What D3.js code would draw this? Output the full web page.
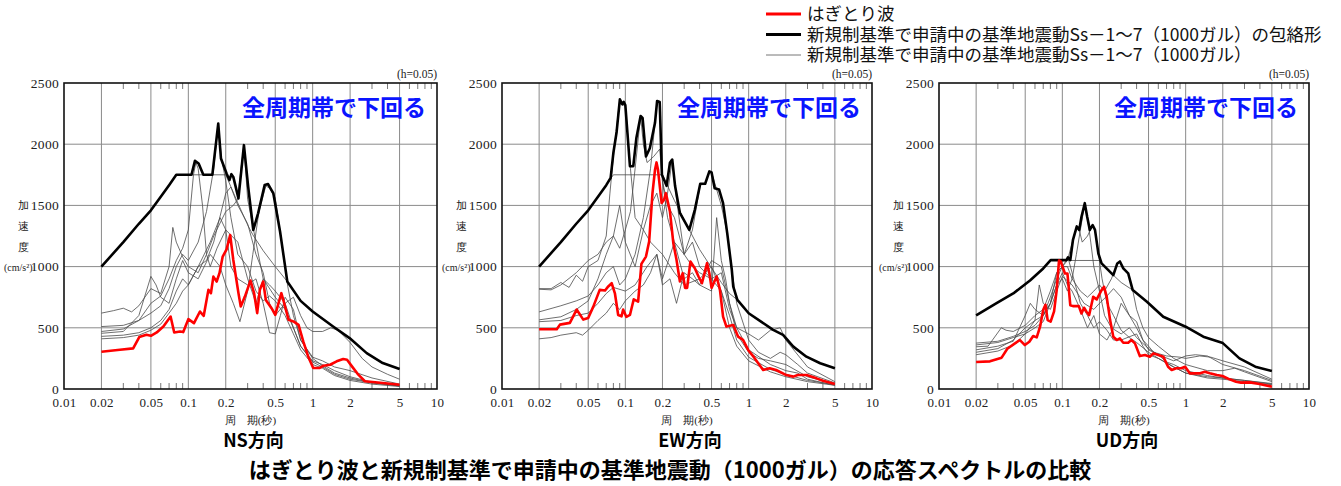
<!DOCTYPE html>
<html>
<head>
<meta charset="utf-8">
<script src="https://cdn.jsdelivr.net/npm/d3@7"></script>
<style>
  body { margin: 0; background: #fff; }
  svg text { font-family: "Liberation Serif", "DejaVu Serif", serif; fill: #222; }
  .jp { font-family: "Noto Sans CJK JP", "Noto Sans", sans-serif !important; }
</style>
</head>
<body>
<script>
// ---- tick values ----
const xTicks = [0.01, 0.02, 0.05, 0.1, 0.2, 0.5, 1, 2, 5, 10];
const xGrid = [0.02, 0.05, 0.1, 0.2, 0.5, 1, 2, 5];
const yTicks = [0, 500, 1000, 1500, 2000, 2500];

// ---- NS ----  [period (s), acceleration (cm/s2)]
const nsRed = [[0.02,304],[0.0282,321],[0.036,332],[0.0403,424],[0.046,443],[0.05,435],[0.0557,462],[0.063,511],[0.072,592],[0.077,462],[0.0857,470],[0.091,465],[0.1,571],[0.111,538],[0.124,633],[0.133,598],[0.145,810],[0.152,783],[0.159,918],[0.169,878],[0.178,946],[0.189,1082],[0.203,1141],[0.217,1258],[0.23,1054],[0.253,783],[0.264,674],[0.285,755],[0.316,886],[0.338,783],[0.358,620],[0.376,810],[0.4,878],[0.42,728],[0.467,660],[0.5,606],[0.56,783],[0.585,715],[0.64,565],[0.7,552],[0.77,524],[0.84,389],[0.92,266],[1.01,171],[1.13,171],[1.22,190],[1.38,198],[1.56,226],[1.76,245],[1.89,239],[2.07,185],[2.33,117],[2.63,63],[3.66,49],[5,35]];
const nsEnv = [[0.02,1000],[0.03,1200],[0.04,1350],[0.05,1460],[0.06,1570],[0.07,1665],[0.08,1750],[0.106,1750],[0.113,1864],[0.121,1842],[0.132,1750],[0.156,1750],[0.174,2168],[0.183,1883],[0.203,1761],[0.214,1707],[0.222,1755],[0.23,1733],[0.253,1557],[0.28,1992],[0.303,1652],[0.333,1299],[0.364,1435],[0.411,1666],[0.438,1674],[0.483,1598],[0.547,1285],[0.625,878],[0.8,720],[1,633],[1.46,511],[1.98,416],[2.72,293],[3.66,212],[5,163]];
const nsSs1 = [[0.02,1000],[0.03,1200],[0.04,1350],[0.05,1460],[0.06,1570],[0.07,1665],[0.08,1750],[0.2,1750],[0.25,1520],[0.3,1340],[0.33,1260],[0.4,1130],[0.5,1000],[0.625,878],[0.8,720],[1,633],[1.46,511],[1.98,416],[2.72,293],[3.66,212],[5,163]];
const nsSs2 = [[0.02,470],[0.03,490],[0.04,560],[0.05,700],[0.06,760],[0.07,900],[0.08,1050],[0.09,1150],[0.1,1300],[0.11,1750],[0.115,1850],[0.12,1800],[0.13,1500],[0.14,1100],[0.15,1000],[0.17,1150],[0.2,1300],[0.25,1200],[0.3,900],[0.35,700],[0.4,900],[0.5,750],[0.6,650],[0.7,500],[0.8,350],[1,220],[1.2,180],[1.5,120],[2,80],[3,50],[5,25]];
const nsSs3 = [[0.02,510],[0.03,520],[0.04,560],[0.05,620],[0.06,680],[0.07,820],[0.08,1000],[0.09,1100],[0.1,1050],[0.12,1200],[0.14,1450],[0.16,1800],[0.174,2165],[0.185,1880],[0.2,1700],[0.22,1400],[0.25,1100],[0.3,1000],[0.35,800],[0.4,720],[0.45,760],[0.5,720],[0.6,600],[0.7,450],[0.8,320],[1,200],[1.2,170],[1.5,110],[2,70],[3,40],[5,20]];
const nsSs4 = [[0.02,620],[0.025,640],[0.03,660],[0.035,630],[0.04,680],[0.05,820],[0.06,780],[0.07,1000],[0.075,1320],[0.08,1200],[0.09,1080],[0.1,1000],[0.12,950],[0.14,1100],[0.16,1250],[0.2,1450],[0.23,1500],[0.25,1550],[0.265,1800],[0.28,1990],[0.3,1550],[0.35,1200],[0.4,900],[0.45,850],[0.5,800],[0.6,700],[0.7,500],[0.8,350],[1,230],[1.2,200],[1.5,150],[2,100],[3,55],[5,30]];
const nsSs5 = [[0.02,455],[0.03,470],[0.04,600],[0.05,920],[0.055,850],[0.06,750],[0.07,700],[0.08,900],[0.09,1050],[0.1,950],[0.12,900],[0.15,1100],[0.18,1000],[0.2,850],[0.23,700],[0.26,550],[0.3,800],[0.33,1100],[0.37,1450],[0.42,1660],[0.45,1640],[0.5,1560],[0.55,1270],[0.6,1000],[0.63,840],[0.7,600],[0.8,400],[1,250],[1.2,190],[1.5,130],[2,90],[3,50],[5,25]];
const nsSs6 = [[0.02,410],[0.03,420],[0.04,440],[0.05,480],[0.06,530],[0.07,620],[0.08,700],[0.09,800],[0.1,850],[0.12,1000],[0.14,1050],[0.16,1200],[0.2,1600],[0.22,1650],[0.25,1500],[0.3,1350],[0.35,1100],[0.4,950],[0.45,700],[0.5,600],[0.6,700],[0.7,750],[0.8,600],[0.9,500],[1,470],[1.2,470],[1.4,500],[1.6,480],[2,380],[2.5,250],[3,180],[4,120],[5,80]];
const nsSs7 = [[0.02,430],[0.03,440],[0.04,460],[0.05,500],[0.06,560],[0.07,650],[0.08,800],[0.09,900],[0.1,850],[0.12,1000],[0.15,1200],[0.18,1400],[0.2,1300],[0.22,1000],[0.25,900],[0.3,850],[0.35,900],[0.4,700],[0.45,460],[0.5,450],[0.55,600],[0.6,750],[0.7,650],[0.8,400],[1,260],[1.2,230],[1.5,180],[2,150],[3,90],[5,40]];

// ---- EW ----
const ewRed = [[0.02,488],[0.0278,488],[0.0295,526],[0.0355,540],[0.0403,649],[0.0456,567],[0.05,580],[0.055,673],[0.062,810],[0.0685,805],[0.0727,838],[0.0775,864],[0.0823,782],[0.0875,605],[0.0932,594],[0.096,649],[0.102,589],[0.109,605],[0.117,733],[0.127,714],[0.135,1022],[0.147,1082],[0.156,1205],[0.166,1600],[0.174,1791],[0.179,1851],[0.184,1791],[0.197,1519],[0.206,1546],[0.213,1600],[0.23,1451],[0.245,1191],[0.26,1055],[0.277,878],[0.292,946],[0.305,826],[0.317,826],[0.337,1041],[0.366,987],[0.392,919],[0.418,864],[0.46,1028],[0.48,946],[0.5,826],[0.55,919],[0.585,810],[0.62,592],[0.66,510],[0.75,523],[0.82,428],[0.9,401],[0.99,319],[1.11,256],[1.31,155],[1.48,169],[1.67,155],[2.02,114],[2.3,101],[2.5,114],[2.94,114],[3.55,87],[4,68],[5,41]];
const ewEnv = [[0.02,1000],[0.03,1200],[0.04,1350],[0.05,1460],[0.06,1570],[0.07,1665],[0.076,1725],[0.08,1930],[0.085,2100],[0.0903,2366],[0.0944,2326],[0.097,2345],[0.1,2320],[0.109,1820],[0.116,1820],[0.123,2053],[0.133,2230],[0.138,2215],[0.147,1900],[0.158,1967],[0.174,2175],[0.181,2353],[0.19,2345],[0.198,1750],[0.216,1660],[0.23,1848],[0.24,1875],[0.253,1660],[0.277,1438],[0.33,1300],[0.366,1464],[0.405,1677],[0.444,1677],[0.48,1778],[0.5,1770],[0.53,1640],[0.575,1630],[0.62,1519],[0.67,1273],[0.73,973],[0.75,837],[0.81,728],[1,619],[1.58,483],[1.9,442],[2.3,346],[2.94,264],[3.8,210],[5,169]];
const ewSs1 = [[0.02,1000],[0.03,1200],[0.04,1350],[0.05,1460],[0.06,1570],[0.07,1665],[0.08,1750],[0.2,1750],[0.25,1540],[0.33,1300],[0.4,1140],[0.5,990],[0.6,870],[0.7,780],[0.81,728],[1,619],[1.58,483],[1.9,442],[2.3,346],[2.94,264],[3.8,210],[5,169]];
const ewSs2 = [[0.02,820],[0.025,820],[0.03,870],[0.035,830],[0.04,930],[0.045,880],[0.05,1000],[0.06,1050],[0.07,1250],[0.075,1600],[0.08,1900],[0.09,2360],[0.095,2320],[0.1,2320],[0.11,1800],[0.12,1400],[0.14,1300],[0.16,1200],[0.2,1100],[0.25,950],[0.3,850],[0.4,900],[0.5,1000],[0.6,800],[0.7,500],[0.8,350],[1,230],[1.5,140],[2,100],[3,60],[5,30]];
const ewSs3 = [[0.02,815],[0.025,810],[0.03,850],[0.04,950],[0.05,1050],[0.06,1100],[0.07,1200],[0.08,1250],[0.09,1150],[0.1,1300],[0.11,1450],[0.12,1800],[0.133,2230],[0.14,2000],[0.15,1850],[0.17,1900],[0.19,1960],[0.2,1700],[0.22,1400],[0.25,1200],[0.3,900],[0.35,950],[0.4,850],[0.5,1050],[0.6,1000],[0.7,700],[0.8,450],[1,300],[1.2,250],[1.5,230],[2,200],[3,100],[5,40]];
const ewSs4 = [[0.02,630],[0.03,680],[0.04,720],[0.05,760],[0.06,850],[0.07,950],[0.08,1000],[0.09,850],[0.1,900],[0.12,1100],[0.14,1400],[0.16,1800],[0.181,2350],[0.19,2340],[0.2,1700],[0.22,1500],[0.25,1400],[0.3,1100],[0.35,1200],[0.4,1000],[0.5,900],[0.6,800],[0.7,600],[0.8,400],[1,260],[1.5,160],[2,120],[3,70],[5,35]];
const ewSs5 = [[0.02,565],[0.03,590],[0.04,650],[0.05,720],[0.06,900],[0.07,1100],[0.08,1250],[0.09,1500],[0.1,1200],[0.12,1000],[0.14,1300],[0.16,1500],[0.18,1600],[0.2,1400],[0.22,1600],[0.24,1875],[0.26,1550],[0.3,1100],[0.35,1000],[0.4,950],[0.5,900],[0.6,950],[0.7,650],[0.8,500],[1,450],[1.2,400],[1.5,480],[1.8,500],[2,400],[3,180],[5,60]];
const ewSs6 = [[0.02,550],[0.03,560],[0.04,600],[0.05,620],[0.06,700],[0.07,780],[0.08,830],[0.1,800],[0.12,850],[0.15,1000],[0.18,1100],[0.2,900],[0.25,1200],[0.3,1100],[0.35,1300],[0.405,1670],[0.444,1670],[0.48,1778],[0.5,1770],[0.55,1630],[0.6,1500],[0.67,1273],[0.73,970],[0.8,700],[1,400],[1.2,300],[1.5,250],[1.8,300],[2,280],[2.5,200],[3,130],[5,50]];
const ewSs7 = [[0.02,410],[0.025,420],[0.03,440],[0.04,460],[0.045,440],[0.05,480],[0.06,560],[0.07,620],[0.08,700],[0.09,650],[0.1,720],[0.12,800],[0.14,850],[0.16,950],[0.18,1100],[0.2,850],[0.23,900],[0.26,700],[0.3,950],[0.35,900],[0.4,850],[0.5,800],[0.55,1400],[0.6,1050],[0.65,900],[0.7,700],[0.8,500],[1,320],[1.5,200],[2,150],[2.5,130],[3,80],[5,30]];

// ---- UD ----
const udRed = [[0.02,220],[0.0259,226],[0.0322,256],[0.0358,329],[0.0413,373],[0.0453,400],[0.0497,359],[0.054,386],[0.058,433],[0.062,422],[0.066,509],[0.07,647],[0.073,688],[0.076,563],[0.0804,550],[0.0857,634],[0.09,808],[0.094,1050],[0.097,1042],[0.105,944],[0.11,944],[0.116,685],[0.122,677],[0.136,677],[0.143,617],[0.15,664],[0.157,631],[0.165,604],[0.178,753],[0.19,732],[0.208,808],[0.218,835],[0.229,753],[0.244,563],[0.259,427],[0.276,400],[0.293,413],[0.312,378],[0.342,378],[0.363,400],[0.388,373],[0.425,269],[0.468,277],[0.512,264],[0.547,291],[0.6,277],[0.658,264],[0.72,182],[0.77,155],[0.84,169],[0.92,169],[0.99,182],[1.08,128],[1.19,128],[1.31,128],[1.43,141],[1.57,128],[1.79,114],[1.99,106],[2.27,79],[2.56,60],[2.81,52],[3.31,54],[3.97,41],[5,19]];
const udEnv = [[0.02,601],[0.0293,702],[0.04,781],[0.0547,887],[0.07,985],[0.0804,1053],[0.108,1053],[0.111,1075],[0.116,1053],[0.122,1219],[0.131,1328],[0.137,1300],[0.143,1407],[0.152,1518],[0.159,1407],[0.167,1300],[0.176,1339],[0.184,1300],[0.196,1107],[0.208,1026],[0.259,930],[0.279,1026],[0.293,1042],[0.312,985],[0.342,944],[0.372,808],[0.485,713],[0.658,590],[1,509],[1.39,427],[2,375],[2.73,250],[3.67,182],[5,147]];
const udSs1 = [[0.02,601],[0.0293,702],[0.04,781],[0.0547,887],[0.07,985],[0.08,1050],[0.2,1050],[0.259,930],[0.3,870],[0.372,808],[0.485,713],[0.658,590],[1,509],[1.39,427],[2,375],[2.73,250],[3.67,182],[5,147]];
const udSs2 = [[0.02,300],[0.03,330],[0.04,400],[0.05,500],[0.06,560],[0.07,600],[0.08,700],[0.09,850],[0.1,900],[0.11,800],[0.12,900],[0.13,1100],[0.14,1300],[0.152,1515],[0.16,1400],[0.17,1200],[0.18,1000],[0.2,800],[0.22,600],[0.25,500],[0.3,450],[0.35,500],[0.4,420],[0.5,330],[0.6,280],[0.7,220],[0.8,200],[1,150],[1.5,110],[2,90],[3,70],[5,40]];
const udSs3 = [[0.02,360],[0.03,380],[0.04,420],[0.05,450],[0.06,500],[0.07,550],[0.08,700],[0.09,950],[0.1,1000],[0.11,1050],[0.122,1219],[0.131,1328],[0.137,1300],[0.145,1200],[0.16,1250],[0.176,1339],[0.184,1300],[0.196,1107],[0.21,900],[0.23,700],[0.26,600],[0.3,480],[0.35,420],[0.4,380],[0.5,300],[0.6,250],[0.8,180],[1,130],[1.5,90],[2,80],[3,60],[5,35]];
const udSs4 = [[0.02,375],[0.03,390],[0.04,430],[0.05,470],[0.06,520],[0.07,600],[0.08,750],[0.09,900],[0.1,1000],[0.11,1000],[0.12,900],[0.14,800],[0.16,750],[0.18,800],[0.2,850],[0.22,800],[0.25,900],[0.279,1026],[0.293,1042],[0.312,985],[0.342,944],[0.372,808],[0.4,650],[0.45,500],[0.5,420],[0.6,350],[0.8,250],[1,200],[1.5,150],[2,150],[2.5,170],[3,140],[5,60]];
const udSs5 = [[0.02,345],[0.025,350],[0.032,500],[0.035,480],[0.04,470],[0.05,520],[0.06,600],[0.07,650],[0.08,800],[0.09,950],[0.1,1000],[0.111,1075],[0.12,950],[0.14,700],[0.16,600],[0.18,500],[0.2,550],[0.23,480],[0.26,400],[0.3,400],[0.4,450],[0.45,350],[0.5,280],[0.6,250],[0.8,180],[1,130],[1.5,100],[2,90],[3,70],[5,45]];
const udSs6 = [[0.02,320],[0.03,350],[0.04,390],[0.05,600],[0.055,700],[0.06,650],[0.07,600],[0.08,700],[0.09,850],[0.1,950],[0.11,850],[0.12,800],[0.14,650],[0.16,500],[0.18,600],[0.2,450],[0.23,400],[0.26,500],[0.3,700],[0.35,600],[0.4,500],[0.45,400],[0.5,350],[0.55,300],[0.7,270],[0.9,260],[1,250],[1.3,270],[1.6,260],[2,230],[3,180],[5,80]];
const udSs7 = [[0.02,280],[0.03,310],[0.04,360],[0.05,450],[0.06,560],[0.065,850],[0.07,700],[0.08,650],[0.09,800],[0.1,920],[0.12,850],[0.15,700],[0.18,650],[0.2,700],[0.23,760],[0.26,820],[0.3,750],[0.35,600],[0.4,550],[0.45,400],[0.5,320],[0.6,280],[0.8,230],[1,270],[1.2,280],[1.5,270],[2,200],[3,150],[5,70]];

const panelNames = ["NS方向", "EW方向", "UD方向"];
const legendLabels = ["はぎとり波", "新規制基準で申請中の基準地震動Ss－1～7（1000ガル）の包絡形", "新規制基準で申請中の基準地震動Ss－1～7（1000ガル）"];
const noteText = "全周期帯で下回る";
const mainTitle = "はぎとり波と新規制基準で申請中の基準地震動（1000ガル）の応答スペクトルの比較";

const W = 1341, H = 486;
const plotTop = 83, plotBottom = 389;

const svg = d3.select("body").append("svg")
    .attr("width", W)
    .attr("height", H);

const panels = [
  {x0: 64,  x1: 437,  red: nsRed, env: nsEnv, ss: [nsSs1, nsSs2, nsSs3, nsSs4, nsSs5, nsSs6, nsSs7]},
  {x0: 502, x1: 872,  red: ewRed, env: ewEnv, ss: [ewSs1, ewSs2, ewSs3, ewSs4, ewSs5, ewSs6, ewSs7]},
  {x0: 939, x1: 1309, red: udRed, env: udEnv, ss: [udSs1, udSs2, udSs3, udSs4, udSs5, udSs6, udSs7]}
];

// minor log ticks (2..9 in each decade, without the grid ones)
let minor = [];
[0.01, 0.1, 1].forEach(dec => {
  for (let m = 2; m <= 9; m++) {
    let v = +(m * dec).toPrecision(3);
    if (!xGrid.includes(v)) minor.push(v);
  }
});

panels.forEach((p, i) => {
  let x = d3.scaleLog().domain([0.01, 10]).range([p.x0, p.x1]);
  let y = d3.scaleLinear().domain([0, 2500]).range([plotBottom, plotTop]);
  let g = svg.append("g");

  // grid
  g.append("g")
    .selectAll("line").data(xGrid).enter().append("line")
      .attr("x1", d => x(d)).attr("x2", d => x(d))
      .attr("y1", plotTop).attr("y2", plotBottom)
      .attr("stroke", "#8a8a8a").attr("stroke-width", 1);
  g.append("g")
    .selectAll("line").data(yTicks.slice(1, -1)).enter().append("line")
      .attr("x1", p.x0).attr("x2", p.x1)
      .attr("y1", d => y(d)).attr("y2", d => y(d))
      .attr("stroke", "#8a8a8a").attr("stroke-width", 1);

  // minor ticks top and bottom
  g.append("g")
    .selectAll("line").data(minor).enter().append("line")
      .attr("x1", d => x(d)).attr("x2", d => x(d))
      .attr("y1", plotBottom).attr("y2", plotBottom - 6)
      .attr("stroke", "#777");
  g.append("g")
    .selectAll("line").data(minor).enter().append("line")
      .attr("x1", d => x(d)).attr("x2", d => x(d))
      .attr("y1", plotTop).attr("y2", plotTop + 6)
      .attr("stroke", "#777");

  let line = d3.line().x(d => x(d[0])).y(d => y(d[1]));

  // Ss-1..7 thin lines
  g.append("g")
    .selectAll("path").data(p.ss).enter().append("path")
      .attr("d", line)
      .attr("fill", "none")
      .attr("stroke", "#4a4a4a")
      .attr("stroke-width", 0.8);

  // envelope
  g.append("path").datum(p.env)
    .attr("d", line)
    .attr("fill", "none")
    .attr("stroke", "#000")
    .attr("stroke-width", 2.6)
    .attr("stroke-linejoin", "round");

  // observed
  g.append("path").datum(p.red)
    .attr("d", line)
    .attr("fill", "none")
    .attr("stroke", "#ff0000")
    .attr("stroke-width", 2.6)
    .attr("stroke-linejoin", "round");

  // frame
  g.append("rect")
    .attr("x", p.x0).attr("y", plotTop)
    .attr("width", p.x1 - p.x0).attr("height", plotBottom - plotTop)
    .attr("fill", "none").attr("stroke", "#111").attr("stroke-width", 1.6);

  // y-axis title, stacked
  let yl = y(1500);
  ["加", "速", "度"].forEach((c, k) => {
    g.append("text")
      .attr("x", p.x0 - 41).attr("y", yl + k * 21)
      .attr("dy", "0.35em").attr("text-anchor", "middle")
      .style("font-size", "11px")
      .text(c);
  });
  g.append("text")
    .attr("x", p.x0 - 60).attr("y", yl + 62)
    .attr("dy", "0.35em")
    .style("font-size", "10px")
    .text("(cm/s²)");

  // axes labels
  let yAxis = d3.axisLeft(y).tickValues(yTicks).tickSize(0).tickPadding(5)
    .tickFormat(d3.format("d"));
  g.append("g")
    .attr("transform", "translate(" + p.x0 + ",0)")
    .call(yAxis)
    .call(s => s.select(".domain").remove())
    .selectAll("text")
      .style("font-family", "'Liberation Serif', serif")
      .style("font-size", "13.5px")
      .style("letter-spacing", "0.3px")
      .attr("fill", "#222");

  let xAxis = d3.axisBottom(x).tickValues(xTicks).tickSize(0).tickPadding(9)
    .tickFormat(d => String(d));
  g.append("g")
    .attr("transform", "translate(0," + plotBottom + ")")
    .call(xAxis)
    .call(s => s.select(".domain").remove())
    .selectAll("text")
      .style("font-family", "'Liberation Serif', serif")
      .style("font-size", "13px")
      .style("letter-spacing", "0.3px")
      .attr("fill", "#222");

  // (h=0.05)
  g.append("text")
    .attr("x", p.x1).attr("y", plotTop - 9)
    .attr("dy", "0.35em").attr("text-anchor", "end")
    .style("font-size", "11.5px")
    .text("(h=0.05)");

  // x title
  g.append("text")
    .attr("x", (p.x0 + p.x1) / 2).attr("y", 420)
    .attr("dy", "0.35em").attr("text-anchor", "middle")
    .style("font-size", "11px")
    .text("周　期(秒)");

  // note
  g.append("text")
    .attr("class", "jp")
    .attr("x", p.x1 - 11).attr("y", 108)
    .attr("dy", "0.35em").attr("text-anchor", "end")
    .style("font-size", "23px").style("font-weight", "bold")
    .style("fill", "#0a14ff")
    .text(noteText);

  // panel name
  g.append("text")
    .attr("class", "jp")
    .attr("x", (p.x0 + p.x1) / 2 + 3).attr("y", 441)
    .attr("dy", "0.35em").attr("text-anchor", "middle")
    .style("font-size", "18px").style("font-weight", "bold")
    .style("fill", "#000")
    .text(panelNames[i]);
});

// legend
let legColors = ["#ff0000", "#000", "#777"];
let legWidths = [3, 3, 1];
legendLabels.forEach((t, k) => {
  let ly = 14 + k * 20.5;
  svg.append("line")
    .attr("x1", 766).attr("x2", 801)
    .attr("y1", ly).attr("y2", ly)
    .attr("stroke", legColors[k]).attr("stroke-width", legWidths[k]);
  svg.append("text")
    .attr("class", "jp")
    .attr("x", 807).attr("y", ly)
    .attr("dy", "0.35em")
    .style("font-size", "17.5px")
    .style("fill", "#111")
    .text(t);
});

// main title
svg.append("text")
  .attr("class", "jp")
  .attr("x", 670).attr("y", 470)
  .attr("dy", "0.35em").attr("text-anchor", "middle")
  .style("font-size", "22px").style("font-weight", "bold")
  .style("fill", "#000")
  .text(mainTitle);
</script>
</body>
</html>
